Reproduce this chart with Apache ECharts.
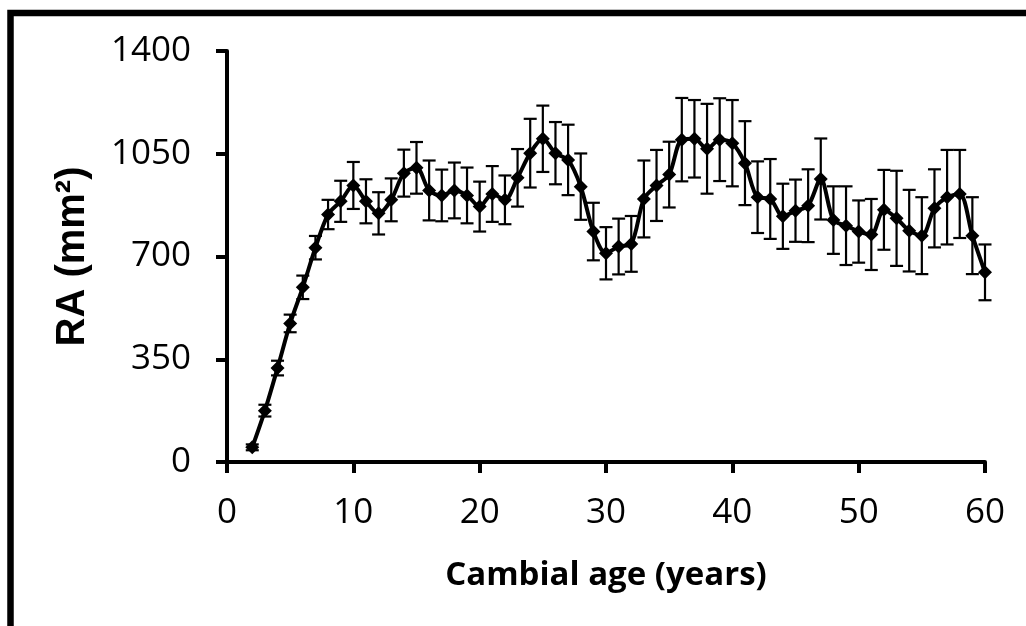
<!DOCTYPE html>
<html>
<head>
<meta charset="utf-8">
<script src="https://cdn.jsdelivr.net/npm/echarts@6/dist/echarts.min.js"></script>
<style>
html,body{margin:0;padding:0;background:#fff;}
#chart{width:1026px;height:626px;}
</style>
</head>
<body>
<div id="chart"></div>
<script>
var ages = [2,3,4,5,6,7,8,9,10,11,12,13,14,15,16,17,18,19,20,21,22,23,24,25,26,27,28,29,30,31,32,33,34,35,36,37,38,39,40,41,42,43,44,45,46,47,48,49,50,51,52,53,54,55,56,57,58,59,60];
var raMean = [50,175,320,472,595,730,843,888,942,888,847,893,984,1002,925,908,925,908,870,913,893,968,1052,1101,1052,1029,938,785,711,734,743,896,942,979,1098,1101,1067,1098,1086,1018,902,896,837,856,873,964,824,805,785,775,859,830,788,771,864,902,913,771,646];
var raErr = [10,20,25,30,40,40,50,70,80,75,72,73,80,88,102,88,95,95,85,95,83,98,117,113,106,120,113,98,89,95,95,131,121,112,142,132,153,141,147,143,122,136,111,106,124,138,115,134,106,121,136,162,139,131,133,161,150,131,95];
var xTicks = [0,10,20,30,40,50,60];
var yTicks = [0,350,700,1050,1400];

var lineData = ages.map(function(a,i){return [a, raMean[i]];});
var errData = ages.map(function(a,i){return [a, raMean[i]-raErr[i], raMean[i]+raErr[i]];});

var chart = echarts.init(document.getElementById('chart'), null, {renderer:'canvas'});
var tickFont = {fontFamily:'Open Sans', fontSize:35, color:'#000'};
chart.setOption({
  animation:false,
  backgroundColor:'#fff',
  graphic:[{
    type:'rect', z:100,
    shape:{x:10.5, y:13, width:3000, height:3000},
    style:{fill:'none', stroke:'#000', lineWidth:6.5}
  }],
  grid:{left:227, top:51, right:41, bottom:164, containLabel:false},
  xAxis:{
    type:'value', min:xTicks[0], max:xTicks[xTicks.length-1], interval:10,
    name:'Cambial age (years)', nameLocation:'middle', nameGap:97,
    nameTextStyle:{fontFamily:'Open Sans', fontWeight:'bold', fontSize:33, color:'#000'},
    axisLine:{show:true, onZero:false, lineStyle:{color:'#000', width:4}},
    axisTick:{show:true, inside:false, length:11, lineStyle:{color:'#000', width:4}},
    axisLabel:{margin:34, fontFamily:tickFont.fontFamily, fontSize:tickFont.fontSize, color:'#000',
      formatter:function(v){return xTicks.indexOf(v)>=0 ? String(v) : '';}},
    splitLine:{show:false}
  },
  yAxis:{
    type:'value', min:yTicks[0], max:yTicks[yTicks.length-1], interval:350,
    name:'RA (mm\u00b2)', nameLocation:'middle', nameGap:134, nameRotate:90,
    nameTextStyle:{fontFamily:'Liberation Sans', fontWeight:'bold', fontSize:40, color:'#000'},
    axisLine:{show:true, onZero:false, lineStyle:{color:'#000', width:4}},
    axisTick:{show:true, inside:false, length:11, lineStyle:{color:'#000', width:4}},
    axisLabel:{margin:36, fontFamily:tickFont.fontFamily, fontSize:tickFont.fontSize, color:'#000',
      formatter:function(v){return yTicks.indexOf(v)>=0 ? String(v) : '';}},
    splitLine:{show:false}
  },
  series:[
    {
      type:'custom',
      data:errData,
      z:3,
      renderItem:function(params, api){
        var x = api.value(0);
        var lo = api.coord([x, api.value(1)]);
        var hi = api.coord([x, api.value(2)]);
        var hw = 6.5;
        var st = {stroke:'#000', lineWidth:2.2, fill:'none'};
        return {type:'group', children:[
          {type:'line', shape:{x1:lo[0], y1:lo[1], x2:hi[0], y2:hi[1]}, style:st},
          {type:'line', shape:{x1:lo[0]-hw, y1:lo[1], x2:lo[0]+hw, y2:lo[1]}, style:st},
          {type:'line', shape:{x1:hi[0]-hw, y1:hi[1], x2:hi[0]+hw, y2:hi[1]}, style:st}
        ]};
      }
    },
    {
      type:'line',
      data:lineData,
      z:4,
      smooth:0.3,
      symbol:'diamond',
      symbolSize:14,
      itemStyle:{color:'#000'},
      lineStyle:{color:'#000', width:4}
    }
  ]
});
</script>
</body>
</html>
